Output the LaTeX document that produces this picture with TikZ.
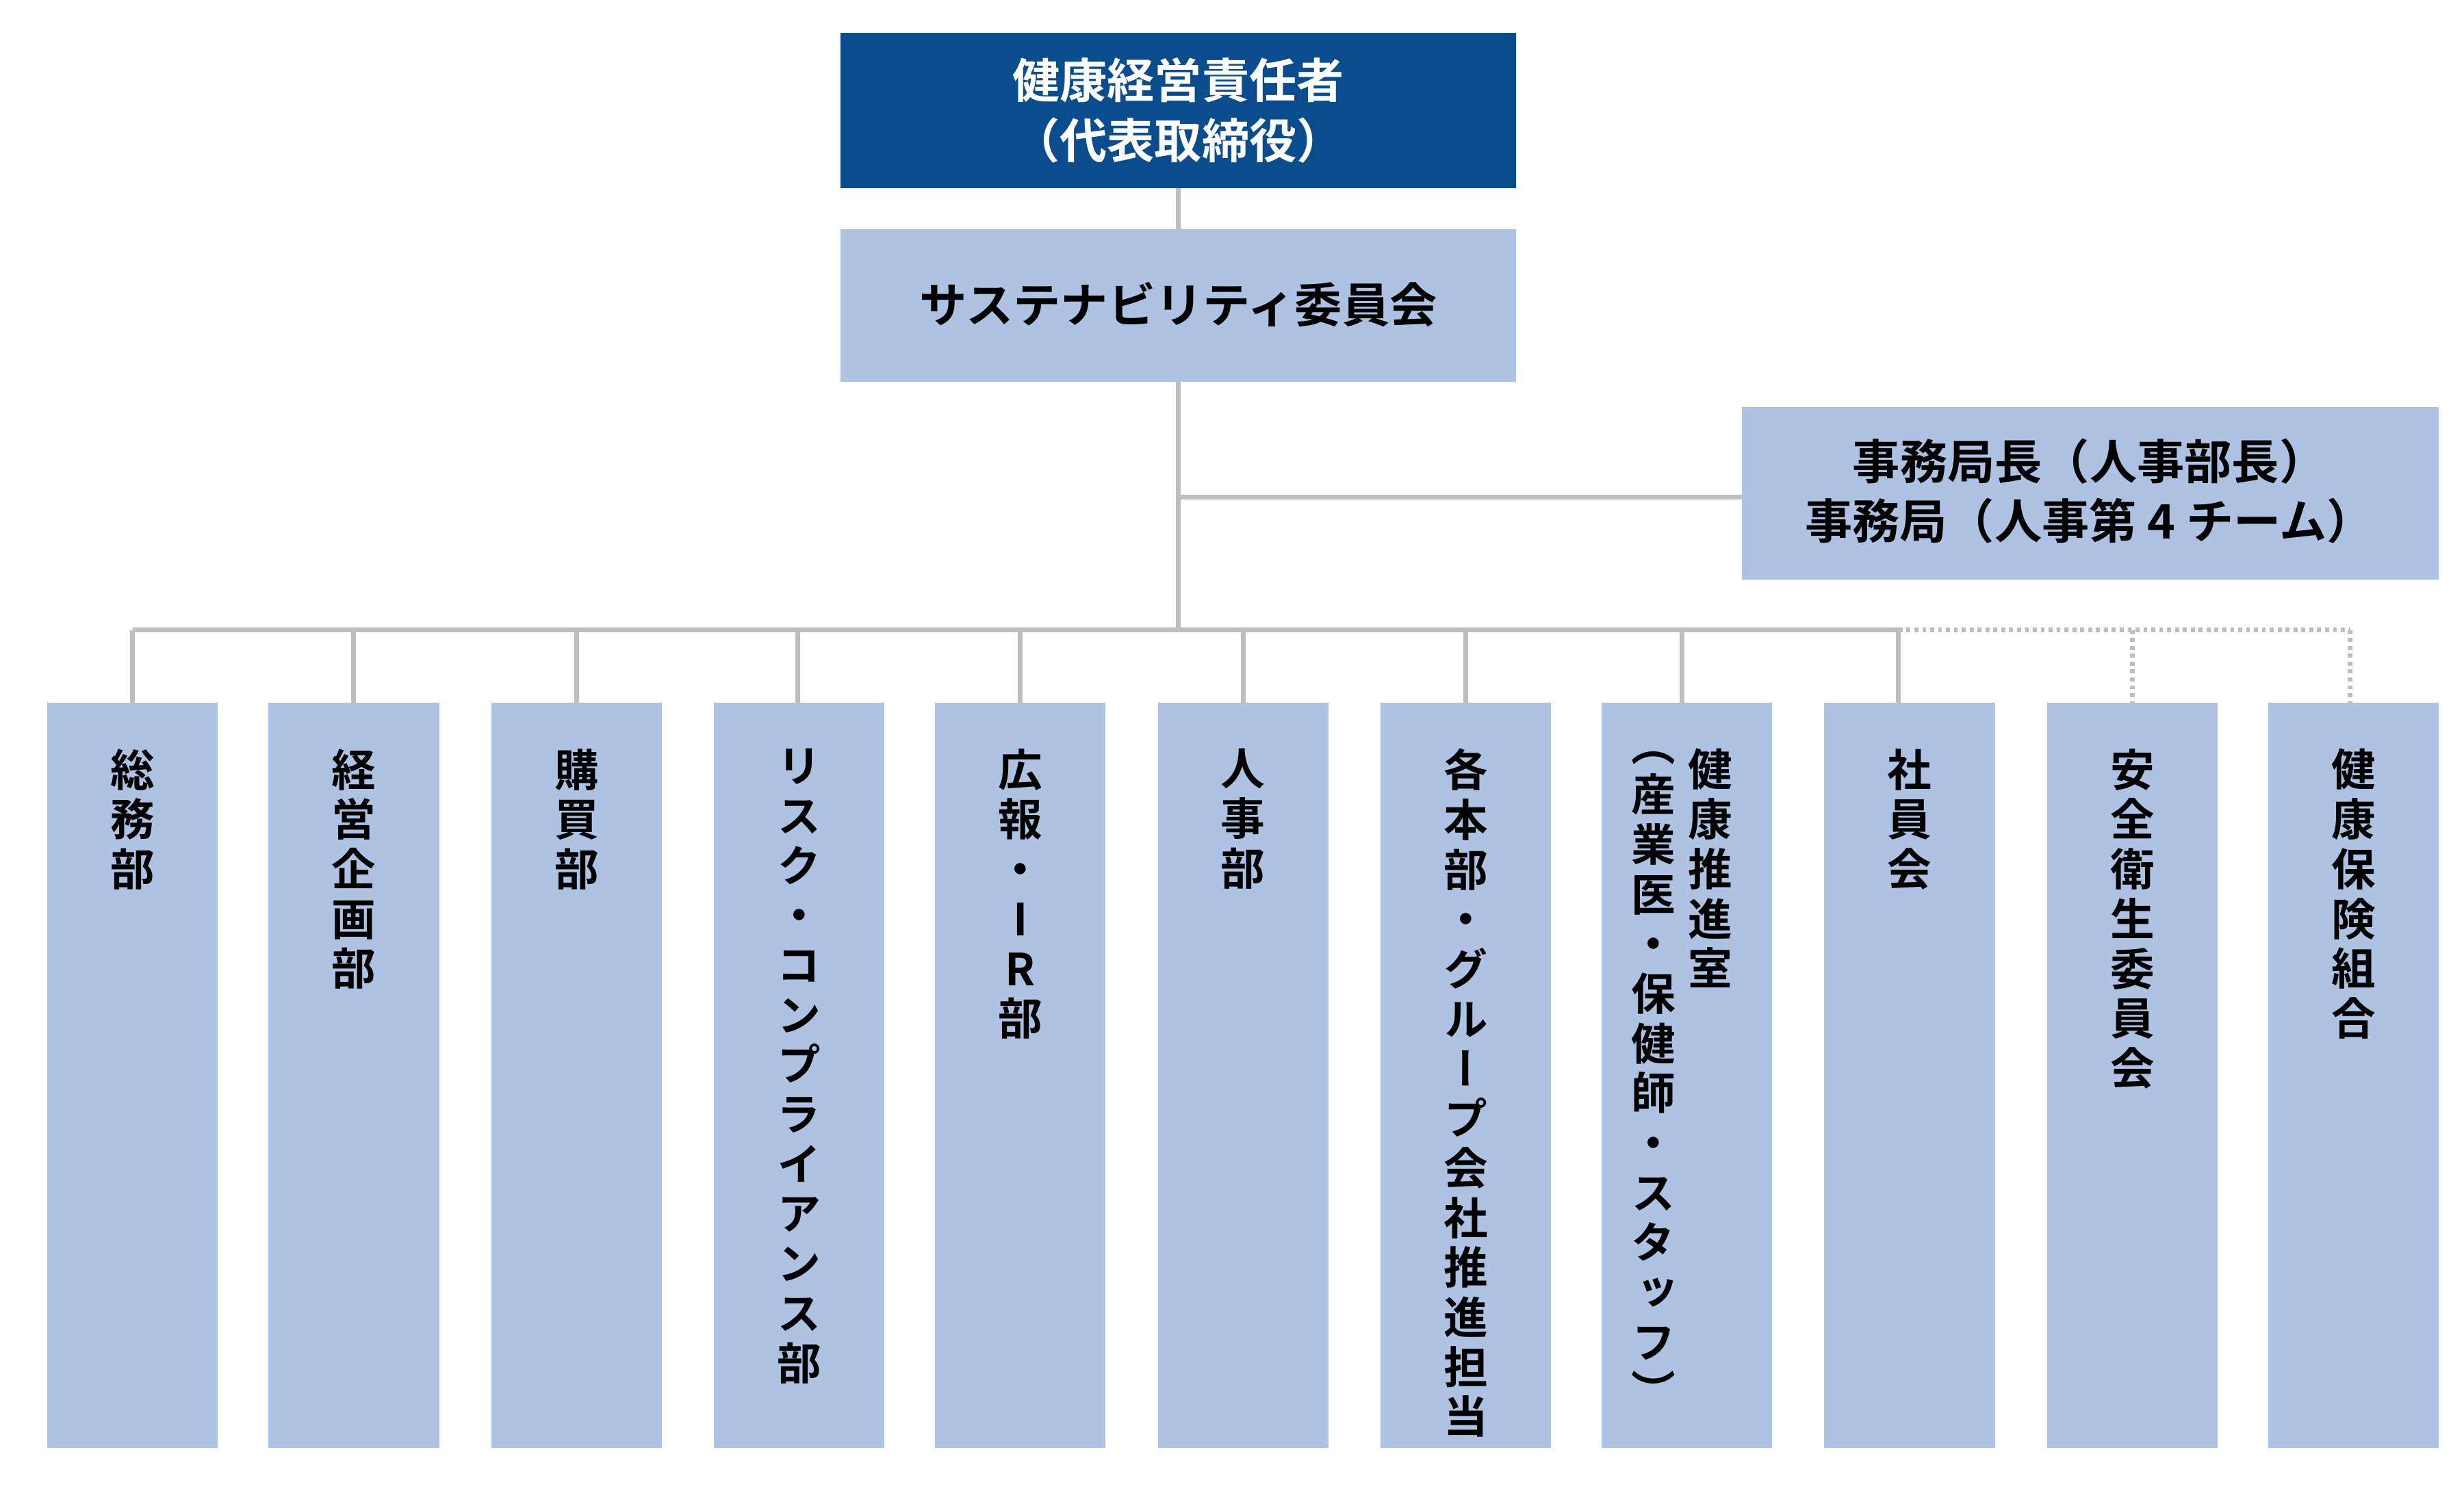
\documentclass[tikz,border=0pt]{standalone}
\usepackage{fontspec}
\setmainfont{Noto Sans CJK JP}[BoldFont=* Bold]
\newfontfamily\vjp{Noto Sans CJK JP}[BoldFont=* Bold,RawFeature=+vert]
\ExplSyntaxOn
\NewDocumentCommand\vtext{m}{\tl_set:Nx\l_tmpa_tl{#1}\vbox{\baselineskip=31.5pt\tl_map_inline:Nn\l_tmpa_tl{\hbox~to~30pt{\hss##1\hss}}}}
\ExplSyntaxOff
\definecolor{dk}{HTML}{0B4C8C}
\definecolor{lt}{HTML}{AEC3E3}
\definecolor{ln}{HTML}{BEBEBE}
\tikzset{
  box/.style={fill=lt,draw=none},
  ln/.style={draw=ln,line width=3pt},
  dl/.style={draw=ln,line width=3pt,dash pattern=on 2.5pt off 2.5pt},
  vt/.style={anchor=north,inner sep=0pt,font=\vjp\bfseries\fontsize{28pt}{31.5pt}\selectfont},
  ht/.style={align=center,font=\bfseries\fontsize{30pt}{38pt}\selectfont}
}
\begin{document}
\begin{tikzpicture}[x=1pt,y=-1pt]
\useasboundingbox (0,0) rectangle (1560,944);
\fill[white] (0,0) rectangle (1560,944);
\fill[dk] (532,21) rectangle (960,119);
\node[ht,text=white] (ceo) at (746,70) {健康経営責任者\\（代表取締役）};
\fill[box] (532,145) rectangle (960,242);
\node[ht] (com) at (746,193) {サステナビリティ委員会};
\fill[box] (1103,258) rectangle (1544,367);
\node[ht] (sec) at (1323,311) {事務局長（人事部長）\\事務局（人事第 4 チーム）};
\coordinate (a1) at (746,119); \coordinate (a2) at (746,145);
\coordinate (b1) at (746,242); \coordinate (b2) at (746,399);
\coordinate (s1) at (746,315); \coordinate (s2) at (1103,315);
\draw[ln] (a1) -- (a2);
\draw[ln] (b1) -- (b2);
\draw[ln] (s1) -- (s2);
\coordinate (busL) at (84,399); \coordinate (busM) at (1202,399); \coordinate (busR) at (1488,399);
\draw[ln] (busL) -- (busM);
\draw[dl] (busM) -- (busR);
\foreach \l/\c/\t/\s in {30/84/総務部/ln,170/224/経営企画部/ln,311/365/購買部/ln,452/505/リスク・コンプライアンス部/ln,592/646/広報・IR部/ln,733/787/人事部/ln,874/928/各本部・グループ会社推進担当/ln,1014/1065//ln,1155/1202/社員会/ln,1296/1350/安全衛生委員会/dl,1436/1488/健康保険組合/dl}{
  \fill[box] (\l,445) rectangle (\l+108,917);
  \coordinate (t\l) at (\c,399); \coordinate (u\l) at (\c,445);
  \draw[\s] (t\l) -- (u\l);
  \node[vt] (n\l) at (\l+54,474) {\vtext{\t}};
}
\node[vt] (h1) at (1083,474) {\vtext{健康推進室}};
\node[vt] (h2) at (1047,476) {\vtext{（産業医・保健師・スタッフ）}};
\end{tikzpicture}
\end{document}
